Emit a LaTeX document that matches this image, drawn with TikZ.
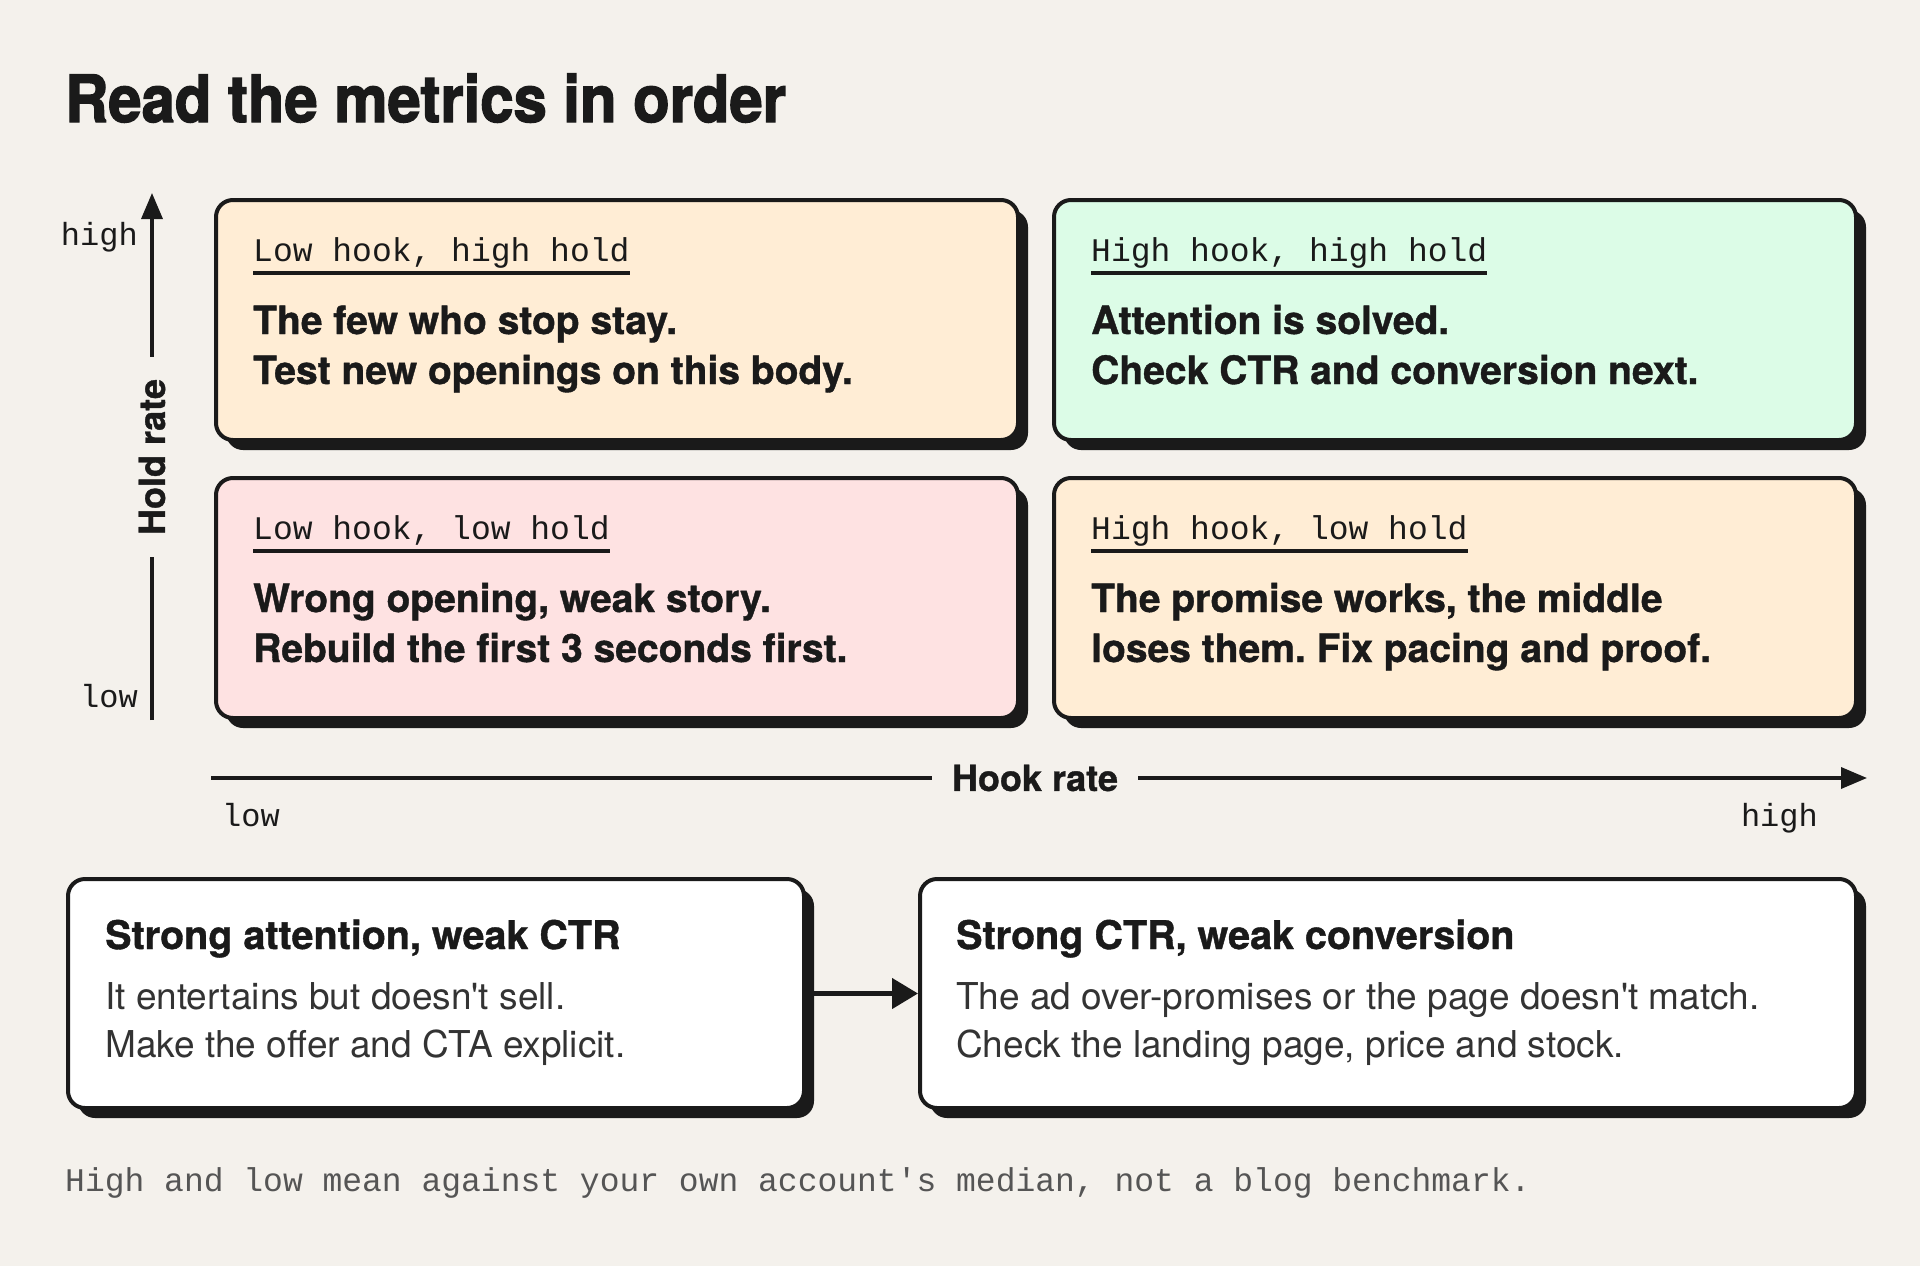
\documentclass[tikz,border=0pt]{standalone}
\usepackage{fontspec}
\setmainfont{TeX Gyre Heros}
\newfontfamily\heavyf{TeX Gyre Heros}[BoldFeatures={FakeBold=2.2}]
\newfontfamily\leadf{TeX Gyre Heros}[BoldFeatures={FakeBold=1}]
\newfontfamily\monof{Liberation Mono}
\usetikzlibrary{arrows.meta,shadows,calc}
\definecolor{bg}{HTML}{F4F1EC}
\definecolor{ink}{HTML}{1A1A1A}
\definecolor{peach}{HTML}{FFEDD5}
\definecolor{mint}{HTML}{DCFCE7}
\definecolor{rose}{HTML}{FEE2E2}
\definecolor{bodytxt}{HTML}{333333}
\definecolor{muted}{HTML}{555555}
\frenchspacing
\begin{document}
\begin{tikzpicture}[x=1pt,y=-1pt,
  card/.style={draw=ink, line width=4pt, rounded corners=17pt, inner sep=0pt, anchor=north west,
    drop shadow={shadow xshift=10pt, shadow yshift=-10pt, fill=ink, opacity=1}},
  quad/.style={card, minimum width=802pt, minimum height=240pt},
  tag/.style={font=\monof\fontsize{33}{33}\selectfont, text=ink, inner sep=0pt, anchor=base west},
  lead/.style={font=\leadf\bfseries\fontsize{39}{39}\selectfont, text=ink, inner sep=0pt, anchor=base west},
  cardhead/.style={font=\leadf\bfseries\fontsize{39.5}{39.5}\selectfont, text=ink, inner sep=0pt, anchor=base west},
  cardbody/.style={font=\fontsize{37}{37}\selectfont, text=bodytxt, inner sep=0pt, anchor=base west},
  axislbl/.style={font=\leadf\bfseries\fontsize{36}{36}\selectfont, text=ink, inner ysep=0pt},
  ticklbl/.style={font=\monof\fontsize{32}{32}\selectfont, text=ink, inner sep=0pt},
  foot/.style={font=\monof\fontsize{33}{33}\selectfont, text=muted, inner sep=0pt, anchor=base west},
  axis/.style={draw=ink, line width=3.5pt},
  axtip/.style={-{Triangle[length=26pt,width=21pt]}},
  ulined/.style={draw=ink, line width=4pt},
  flow/.style={draw=ink, line width=4.5pt, -{Triangle[length=26pt,width=30pt]}}
]
\useasboundingbox (0,0) rectangle (1920,1266);
\fill[bg] (0,0) rectangle (1920,1266);

% title
\node[anchor=base west, inner sep=0pt, font=\heavyf\bfseries\fontsize{65}{65}\selectfont, text=ink] (title) at (65,122)
  {\scalebox{0.92}[1]{Read the metrics in order}};

% quadrant cards
\node[quad, fill=peach] (tl) at (214,198) {};
\node[quad, fill=mint]  (tr) at (1052,198) {};
\node[quad, fill=rose]  (bl) at (214,476) {};
\node[quad, fill=peach] (br) at (1052,476) {};

% top-left
\node[tag] (tltag) at (253,261) {Low hook, high hold};
\draw[ulined] ($(tltag.base west)+(0,12)$) -- ($(tltag.base east)+(0,12)$);
\node[lead] (tla) at (253,334) {The few who stop stay.};
\node[lead] (tlb) at (253,384) {Test new openings on this body.};

% top-right
\node[tag] (trtag) at (1091,261) {High hook, high hold};
\draw[ulined] ($(trtag.base west)+(0,12)$) -- ($(trtag.base east)+(0,12)$);
\node[lead] (tra) at (1091,334) {Attention is solved.};
\node[lead] (trb) at (1091,384) {Check CTR and conversion next.};

% bottom-left
\node[tag] (bltag) at (253,539) {Low hook, low hold};
\draw[ulined] ($(bltag.base west)+(0,12)$) -- ($(bltag.base east)+(0,12)$);
\node[lead] (bla) at (253,612) {Wrong opening, weak story.};
\node[lead] (blb) at (253,662) {Rebuild the first 3 seconds first.};

% bottom-right
\node[tag] (brtag) at (1091,539) {High hook, low hold};
\draw[ulined] ($(brtag.base west)+(0,12)$) -- ($(brtag.base east)+(0,12)$);
\node[lead] (bra) at (1091,612) {The promise works, the middle};
\node[lead] (brb) at (1091,662) {loses them. Fix pacing and proof.};

% y axis
\coordinate (ytop) at (152,193);
\coordinate (ybot) at (152,720);
\node[axislbl, rotate=90, inner xsep=22pt] (hold) at (152,457) {Hold rate};
\draw[axis] (ybot) -- (hold.west);
\draw[axis, axtip] (hold.east) -- (ytop);
\node[ticklbl, anchor=base east] (yhigh) at (138,245) {high};
\node[ticklbl, anchor=base east] (ylow) at (138,707) {low};

% x axis
\coordinate (xleft) at (211,778);
\coordinate (xright) at (1867,778);
\node[axislbl, inner xsep=20pt] (hook) at (1035,778) {Hook rate};
\draw[axis] (xleft) -- (hook.west);
\draw[axis, axtip] (hook.east) -- (xright);
\node[ticklbl, anchor=base west] (xlow) at (222,826) {low};
\node[ticklbl, anchor=base east] (xhigh) at (1818,826) {high};

% bottom cards
\node[card, fill=white, minimum width=736pt, minimum height=229pt] (sa) at (66,877) {};
\node[card, fill=white, minimum width=936pt, minimum height=229pt] (sc) at (918,877) {};
\draw[flow] (sa.east) -- (sc.west);

\node[cardhead] (sah) at (105,949) {Strong attention, weak CTR};
\node[cardbody] (sa1) at (105,1009) {It entertains but doesn\textquotesingle t sell.};
\node[cardbody] (sa2) at (105,1057) {Make the offer and CTA explicit.};

\node[cardhead] (sch) at (956,949) {Strong CTR, weak conversion};
\node[cardbody] (sc1) at (956,1009) {The ad over-promises or the page doesn\textquotesingle t match.};
\node[cardbody] (sc2) at (956,1057) {Check the landing page, price and stock.};

% footer
\node[foot] (note) at (65,1191) {High and low mean against your own account's median, not a blog benchmark.};
\end{tikzpicture}
\end{document}
